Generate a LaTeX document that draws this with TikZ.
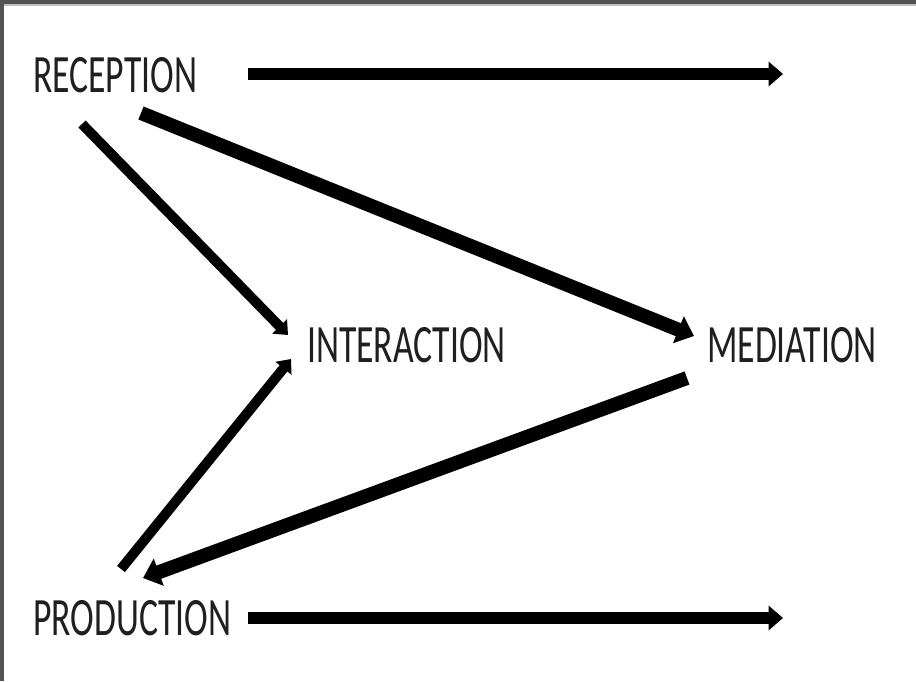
\documentclass[tikz,border=0pt]{standalone}
\usepackage{fontspec}
\setmainfont{Carlito}
\usepackage{graphicx}
\usetikzlibrary{arrows.meta}
\newcommand{\lbltxt}[1]{\scalebox{0.66}[1]{#1}}
\begin{document}
\begin{tikzpicture}[x=1pt,y=-1pt,
  lbl/.style={anchor=base west,inner sep=0pt,text=black!88,font=\fontsize{54}{60}\selectfont},
  thick arrow/.style={line width=#1,-{Triangle[width=2.0*#1,length=1.2*#1]}},
  thick arrow/.default=12pt]
\useasboundingbox (0,0) rectangle (916,681);
\fill[white] (0,0) rectangle (916,681);
\fill[black!68] (0,0) rectangle (916,4);
\fill[black!68] (0,0) rectangle (4,681);
\fill[black!25] (4,4) rectangle (916,5.5);

\node[lbl] (rec) at (33,92) {\lbltxt{RECEPTION}};
\node[lbl] (int) at (307,362) {\lbltxt{INTERACTION}};
\node[lbl] (med) at (707,362) {\lbltxt{MEDIATION}};
\node[lbl] (pro) at (33,635) {\lbltxt{PRODUCTION}};

\coordinate (recA) at (248,74);
\coordinate (recB) at (783,74);
\coordinate (proA) at (248,618);
\coordinate (proB) at (783,618);
\coordinate (recI) at (82,124);
\coordinate (intR) at (288,335);
\coordinate (recM) at (141,113);
\coordinate (medR) at (694,336);
\coordinate (medP) at (687,378);
\coordinate (proM) at (143,578);
\coordinate (proI) at (121,569);
\coordinate (intP) at (291,359);

\draw[thick arrow=12pt] (recA) -- (recB);
\draw[thick arrow=12pt] (proA) -- (proB);
\draw[thick arrow=10pt] (recI) -- (intR);
\draw[thick arrow=14pt] (recM) -- (medR);
\draw[thick arrow=14pt] (medP) -- (proM);
\draw[thick arrow=10pt] (proI) -- (intP);
\end{tikzpicture}
\end{document}
